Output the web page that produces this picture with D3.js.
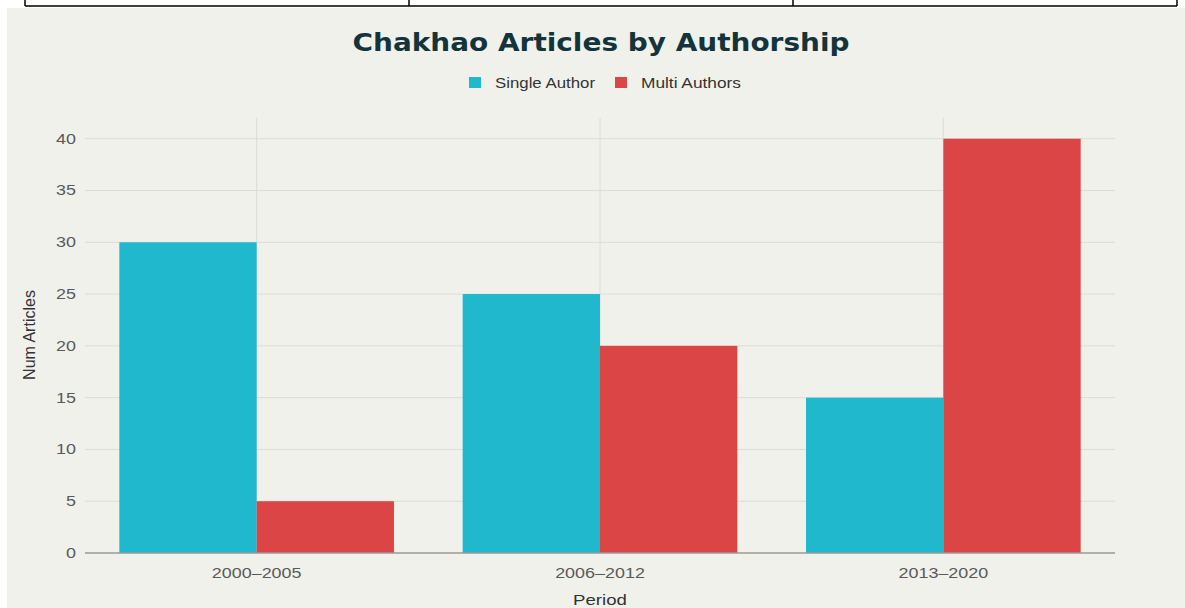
<!DOCTYPE html>
<html><head><meta charset="utf-8">
<script src="https://cdn.jsdelivr.net/npm/d3@7"></script>
<style>body{margin:0;background:#fff;}svg{display:block;}</style>
</head><body>
<svg id="c" width="1185" height="608"></svg>
<script>
const categories = ["2000\u20132005", "2006\u20132012", "2013\u20132020"];
const seriesNames = ["Single Author", "Multi Authors"];
const singleAuthor = [30, 25, 15];
const multiAuthors = [5, 20, 40];
const yTicks = [0, 5, 10, 15, 20, 25, 30, 35, 40];
const colors = ["#1FB8CD", "#DB4545"];

const FONT = "'Liberation Sans', Arial, sans-serif";
function widen(sel, k){ sel.each(function(){ const w=this.getComputedTextLength(); d3.select(this).attr("textLength", w*k).attr("lengthAdjust","spacingAndGlyphs"); }); }

const svg = d3.select("#c");
const W = 1185, H = 608;
svg.append("rect").attr("x",0).attr("y",0).attr("width",W).attr("height",H).attr("fill","#fff");
svg.append("rect").attr("x",7).attr("y",8).attr("width",W-7).attr("height",H-8).attr("fill","#F1F1EC");
const bd = svg.append("g").attr("stroke","#000").attr("stroke-width",1.5);
bd.append("line").attr("x1",25).attr("x2",1177).attr("y1",6).attr("y2",6);
[25,409,793,1177].forEach(x=>bd.append("line").attr("x1",x).attr("x2",x).attr("y1",0).attr("y2",6));

const m = {l:85, r:1115, t:118, b:553};
const x0 = d3.scaleBand().domain(categories).range([m.l,m.r]).paddingInner(0.2).paddingOuter(0.1);
const x1 = d3.scaleBand().domain(seriesNames).range([0,x0.bandwidth()]);
const y = d3.scaleLinear().domain([0,42]).range([m.b,m.t]);

const g = svg.append("g");
g.selectAll(".hg").data(yTicks.filter(d=>d>0)).join("line")
  .attr("x1",m.l).attr("x2",m.r).attr("y1",d=>y(d)).attr("y2",d=>y(d))
  .attr("stroke","#DCDCD6").attr("stroke-width",1);
g.selectAll(".vg").data(categories).join("line")
  .attr("x1",d=>x0(d)+x0.bandwidth()/2).attr("x2",d=>x0(d)+x0.bandwidth()/2)
  .attr("y1",m.t).attr("y2",m.b).attr("stroke","#DCDCD6").attr("stroke-width",1);

const data = categories.map((c,i)=>({c, vals:[singleAuthor[i], multiAuthors[i]]}));
const grp = svg.append("g").selectAll("g").data(data).join("g").attr("transform",d=>`translate(${x0(d.c)},0)`);
grp.selectAll("rect").data(d=>d.vals.map((v,j)=>({k:seriesNames[j],v,j}))).join("rect")
  .attr("x",d=>x1(d.k)).attr("width",x1.bandwidth())
  .attr("y",d=>y(d.v)).attr("height",d=>y(0)-y(d.v)).attr("fill",d=>colors[d.j]);

const yAxis = d3.axisLeft(y).tickValues(yTicks).tickSize(0).tickPadding(9);
const ya = svg.append("g").attr("transform",`translate(${m.l},0)`).call(yAxis);
ya.select(".domain").remove();
ya.selectAll("text").attr("fill","#5A5A5A").style("font-family",FONT).style("font-size","14px");
widen(ya.selectAll("text"), 1.28);
svg.append("line").attr("x1",m.l).attr("x2",m.r).attr("y1",m.b).attr("y2",m.b).attr("stroke","#999").attr("stroke-width",1.5);

const xAxis = d3.axisBottom(x0).tickSize(0).tickPadding(15);
const xa = svg.append("g").attr("transform",`translate(0,${m.b})`).call(xAxis);
xa.select(".domain").remove();
xa.selectAll("text").attr("fill","#5A5A5A").style("font-family",FONT).style("font-size","14px");
widen(xa.selectAll("text"), 1.28);

svg.append("text").attr("x",601).attr("y",51).attr("text-anchor","middle")
  .attr("fill","#13343B").style("font-family","'DejaVu Sans', sans-serif").style("font-weight","900").style("font-size","24px")
  .attr("textLength",497).attr("lengthAdjust","spacingAndGlyphs")
  .text("Chakhao Articles by Authorship");
const pt = svg.append("text").attr("x",600).attr("y",605).attr("text-anchor","middle").attr("fill","#333")
  .style("font-family",FONT).style("font-size","15.5px").text("Period");
widen(pt, 1.2);
svg.append("text").attr("transform","translate(35,335) rotate(-90)").attr("text-anchor","middle").attr("fill","#333")
  .style("font-family","'Liberation Sans Narrow', 'Liberation Sans', sans-serif").style("font-size","16px").text("Num Articles");

const legX = [469, 615];
seriesNames.forEach((s,i)=>{
  svg.append("rect").attr("x",legX[i]).attr("y",77).attr("width",12).attr("height",11).attr("fill",colors[i]);
  const t = svg.append("text").attr("x",legX[i]+26).attr("y",87.5).attr("fill","#333")
    .style("font-family",FONT).style("font-size","14px").text(s);
  t.attr("textLength", 100).attr("lengthAdjust","spacingAndGlyphs");
});
</script>
</body></html>
